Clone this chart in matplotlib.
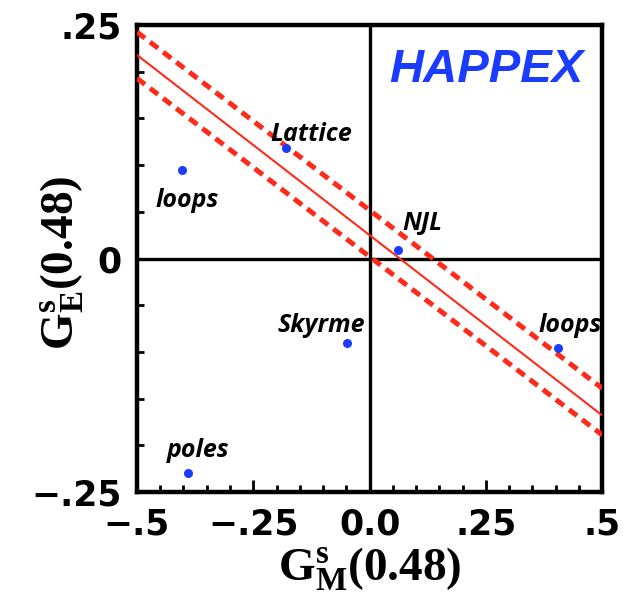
import matplotlib
matplotlib.use("Agg")
import matplotlib.pyplot as plt
import numpy as np

# model predictions (G_M^s, G_E^s) at Q^2 = 0.48
models = ["Lattice", "loops", "NJL", "Skyrme", "loops", "poles"]
gm_vals = [-0.180, -0.403, 0.061, -0.048, 0.405, -0.390]
ge_vals = [0.118, 0.095, 0.009, -0.090, -0.096, -0.230]
# label baseline offsets in pixels relative to the point
label_dx = [25, 5, 24, -26, 12, 10]
label_dy = [7, -37, 20, 11, 16, 16]

# HAPPEX band: central line and error band, evaluated at the x-limits
band_x = [-0.5, 0.5]
band_mid = [0.218, -0.168]
band_hi = [0.2425, -0.139]
band_lo = [0.193, -0.189]

xticks = [-0.5, -0.25, 0.0, 0.25, 0.5]
xticklabels = ["\u2212.5", "\u2212.25", "0.0", ".25", ".5"]
yticks = [-0.25, 0.0, 0.25]
yticklabels = ["\u2212.25", "0", ".25"]

plt.rcParams["mathtext.fontset"] = "custom"
plt.rcParams["mathtext.rm"] = "Liberation Serif:bold"
plt.rcParams["mathtext.it"] = "Liberation Serif:bold"
plt.rcParams["mathtext.bf"] = "Liberation Serif:bold"

fig = plt.figure(figsize=(6.4, 6.02), dpi=100)
ax = fig.add_axes([0.214, 0.1827, 0.727, 0.7757])

red = "#ff2a1a"
ax.plot(band_x, band_mid, color=red, lw=1.5, zorder=3)
ax.plot(band_x, band_hi, color=red, lw=3.6, dashes=(2, 1.3), zorder=3)
ax.plot(band_x, band_lo, color=red, lw=3.6, dashes=(2, 1.3), zorder=3)

ax.axhline(0, color="black", lw=2.4, zorder=2)
ax.axvline(0, color="black", lw=2.4, zorder=2)

ax.plot(gm_vals, ge_vals, "o", color="#1a3cff", ms=6.5, mec="none", zorder=4)
for name, x, y, dx, dy in zip(models, gm_vals, ge_vals, label_dx, label_dy):
    ax.annotate(name, (x, y), xytext=(dx, dy), textcoords="offset pixels",
                ha="center", va="baseline", fontsize=18, family="Open Sans",
                fontweight="bold", fontstyle="italic", zorder=5)

ax.text(0.75, 0.904, "HAPPEX", transform=ax.transAxes, ha="center", va="center",
        fontsize=34, family="Liberation Sans", fontweight="bold",
        fontstyle="italic", color="#1a3cff")

ax.set_xlim(-0.5, 0.5)
ax.set_ylim(-0.25, 0.25)
ax.set_xticks(xticks)
ax.set_xticklabels(xticklabels)
ax.set_yticks(yticks)
ax.set_yticklabels(yticklabels)
ax.set_xticks(np.arange(-0.5, 0.51, 0.05), minor=True)
ax.set_yticks(np.arange(-0.25, 0.251, 0.05), minor=True)
ax.tick_params(which="both", direction="in", top=False, right=False, width=2)
ax.tick_params(which="major", length=9)
ax.tick_params(which="minor", length=5)
ax.tick_params(axis="x", which="major", pad=11)
ax.tick_params(axis="y", which="major", pad=11)
for lab in ax.get_xticklabels() + ax.get_yticklabels():
    lab.set_fontsize(25)
    lab.set_fontweight("bold")
    lab.set_family("DejaVu Sans")

for sp in ax.spines.values():
    sp.set_linewidth(3.2)

ax.set_xlabel(r"$\mathrm{G^{s}_{M}(0.48)}$", fontsize=34, labelpad=3)
ax.set_ylabel(r"$\mathrm{G^{s}_{E}(0.48)}$", fontsize=34)
ax.yaxis.set_label_coords(-0.11, 0.49)

fig.savefig("out.png", dpi=100)
